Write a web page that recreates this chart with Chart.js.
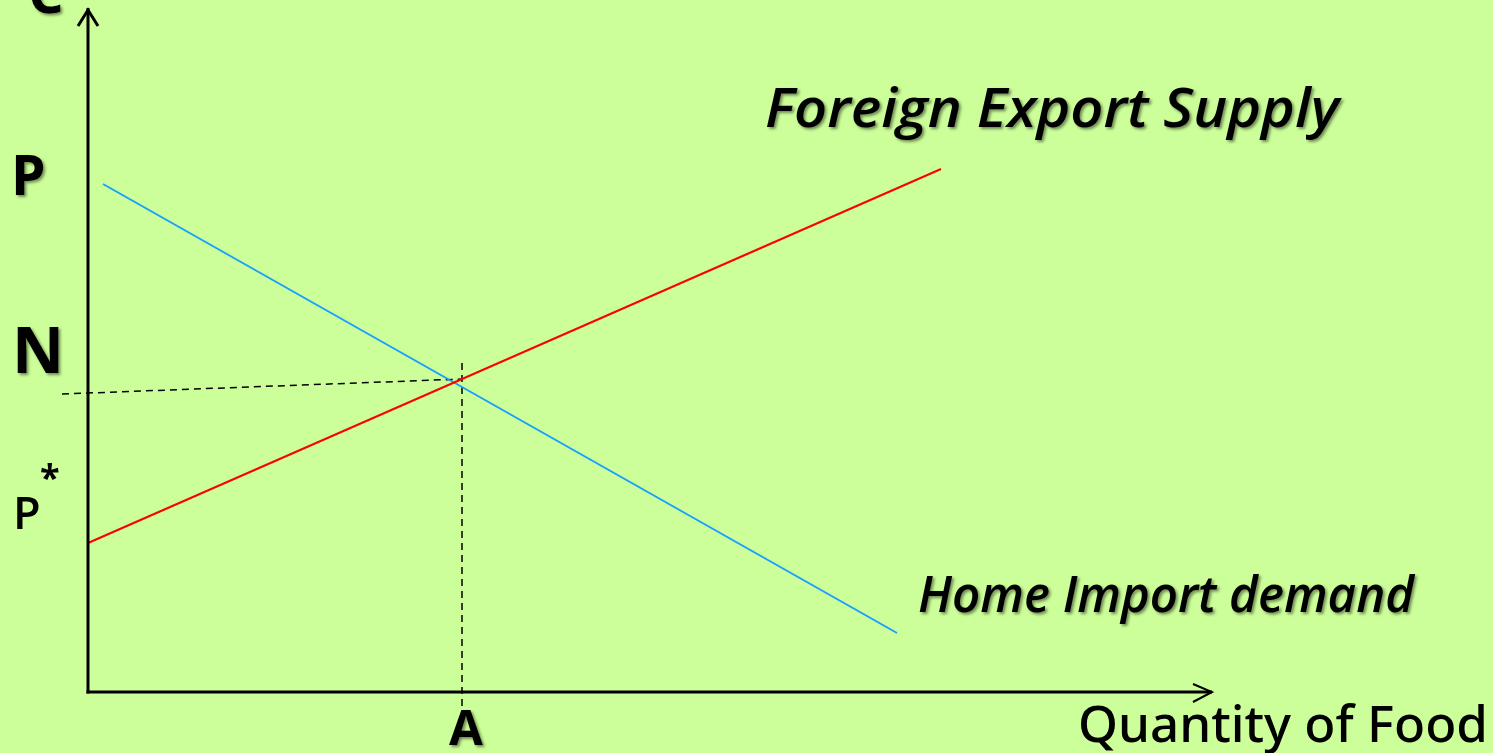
<!DOCTYPE html>
<html>
<head>
<meta charset="utf-8">
<script src="https://cdn.jsdelivr.net/npm/chart.js@4.4.1/dist/chart.umd.min.js"></script>
<style>
  html, body { margin: 0; padding: 0; background: #CCFF99; overflow: hidden; }
  #wrap { width: 1493px; height: 753px; }
</style>
</head>
<body>
<div id="wrap"><canvas id="c" width="1493" height="753"></canvas></div>
<script>
// ---- data (quantity units on x, price units on y) ----
const supplyQ = [0, 85.3];
const supplyP = [14.9, 52.3];
const demandQ = [1.5, 80.9];
const demandP = [50.8, 5.9];
const priceGuideQ = [-2.6, 37.5];
const priceGuideP = [29.8, 31.3];
const qtyGuideQ = [37.4, 37.4];
const qtyGuideP = [32.9, -1.5];
const axisXEnd = 112.4;
const axisYEnd = 68.4;
const seriesNames = ['Foreign Export Supply', 'Home Import demand'];
const priceLabels = ['P', 'N', 'P', '*'];
const qtyLabels = ['A'];
const axisTitles = ['C', 'Quantity of Food'];

function pts(xs, ys) { return xs.map((x, i) => ({ x: x, y: ys[i] })); }

const arrowPlugin = {
  id: 'axesAndText',
  beforeDraw(chart) {
    const ctx = chart.ctx;
    ctx.save();
    ctx.fillStyle = '#CCFF99';
    ctx.fillRect(0, 0, chart.width, chart.height);
    ctx.restore();
  },
  afterDatasetsDraw(chart) {
    const ctx = chart.ctx;
    const xs = chart.scales.x, ys = chart.scales.y;
    const ox = xs.getPixelForValue(0), oy = ys.getPixelForValue(0);
    const yTop = ys.getPixelForValue(axisYEnd);
    const xEnd = xs.getPixelForValue(axisXEnd);
    ctx.save();
    ctx.strokeStyle = '#000';
    ctx.lineCap = 'butt';
    // y axis
    ctx.lineWidth = 3;
    ctx.beginPath(); ctx.moveTo(ox, oy + 1.5); ctx.lineTo(ox, yTop); ctx.stroke();
    ctx.lineWidth = 3;
    ctx.lineJoin = 'miter';
    ctx.beginPath(); ctx.moveTo(ox - 10, yTop + 18); ctx.lineTo(ox, yTop + 2); ctx.lineTo(ox + 10, yTop + 18); ctx.stroke();
    // x axis
    ctx.lineWidth = 3;
    ctx.beginPath(); ctx.moveTo(ox - 1.5, oy); ctx.lineTo(xEnd, oy); ctx.stroke();
    ctx.lineWidth = 2;
    ctx.beginPath(); ctx.moveTo(xEnd - 19, oy - 8); ctx.lineTo(xEnd, oy); ctx.lineTo(xEnd - 19, oy + 10); ctx.stroke();
    ctx.restore();

    function txt(s, x, y, font, w, shadow) {
      ctx.save();
      ctx.font = font;
      ctx.fillStyle = '#000';
      ctx.textBaseline = 'alphabetic';
      if (shadow) {
        ctx.shadowColor = 'rgba(0,0,0,0.45)';
        ctx.shadowOffsetX = 2; ctx.shadowOffsetY = 2; ctx.shadowBlur = 3;
      }
      const m = ctx.measureText(s).width;
      const sx = w ? w / m : 1;
      ctx.translate(x, y);
      ctx.scale(sx, 1);
      ctx.fillText(s, 0, 0);
      ctx.restore();
    }
    // axis / point labels
    txt(axisTitles[0], 28, 13, 'bold 56px "Open Sans"', null, true);
    txt(priceLabels[0], 11, 195, 'bold 55px "Open Sans"', null, true);
    txt(priceLabels[1], 12, 373, 'bold 64px "Open Sans"', null, true);
    txt(priceLabels[2], 13, 529, '600 45px "Open Sans"', null, false);
    txt(priceLabels[3], 40, 490, 'bold 36px "Open Sans"', null, false);
    txt(qtyLabels[0], 449, 745, 'bold 49px "Open Sans"', null, true);
    txt(axisTitles[1], 1078, 742, '500 50px "Noto Sans"', 410, false);
    txt(seriesNames[0], 765, 127, 'italic 600 54px "Open Sans"', 574, true);
    txt(seriesNames[1], 918, 612, 'italic 600 50px "Open Sans"', 496, true);
  }
};

new Chart(document.getElementById('c'), {
  type: 'scatter',
  data: {
    datasets: [
      { label: seriesNames[0], data: pts(supplyQ, supplyP), showLine: true, borderColor: '#FF0000', borderWidth: 2, pointRadius: 0 },
      { label: seriesNames[1], data: pts(demandQ, demandP), showLine: true, borderColor: '#1A9EFF', borderWidth: 2, pointRadius: 0 },
      { label: 'price guide', data: pts(priceGuideQ, priceGuideP), showLine: true, borderColor: '#000', borderWidth: 1.5, borderDash: [7, 5], pointRadius: 0 },
      { label: 'quantity guide', data: pts(qtyGuideQ, qtyGuideP), showLine: true, borderColor: '#000', borderWidth: 1.5, borderDash: [7, 5], pointRadius: 0 }
    ]
  },
  options: {
    responsive: false,
    devicePixelRatio: 1,
    animation: false,
    layout: { padding: 0 },
    plugins: { legend: { display: false }, tooltip: { enabled: false } },
    scales: {
      x: { type: 'linear', min: -8.8, max: 140.5, display: false },
      y: { type: 'linear', min: -6.1, max: 69.2, display: false }
    }
  },
  plugins: [arrowPlugin]
});
</script>
</body>
</html>
